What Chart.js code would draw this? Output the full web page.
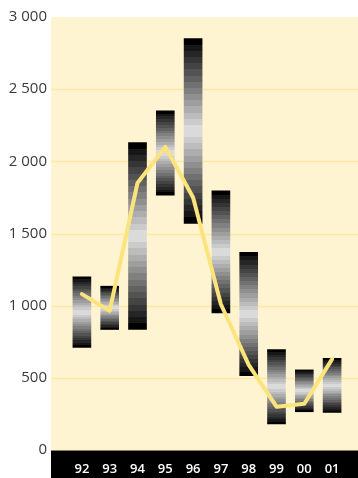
<!doctype html>
<html lang="en">
<head>
<meta charset="utf-8">
<title>Range chart</title>
<script src="https://cdn.jsdelivr.net/npm/chart.js@4/dist/chart.umd.min.js"></script>
<style>
  html, body { margin: 0; padding: 0; background: #fff; }
  #wrap { width: 358px; height: 478px; }
</style>
</head>
<body>
<div id="wrap"><canvas id="rangeChart" width="358" height="478"></canvas></div>
<script>
// years, min / max range per year and the average line
var years = ['92', '93', '94', '95', '96', '97', '98', '99', '00', '01'];
var lows  = [710, 835, 835, 1765, 1570, 950, 515, 180, 265, 260];
var highs = [1200, 1135, 2130, 2350, 2850, 1795, 1370, 695, 555, 635];
var avg   = [1080, 965, 1850, 2100, 1750, 1010, 590, 300, 320, 630];
var yTicks = [0, 500, 1000, 1500, 2000, 2500, 3000];

var ranges = years.map(function (y, i) { return [lows[i], highs[i]]; });

// plot panel spans wider than the chart area
var PANEL_LEFT = 51;

function fmt(v) {
  return String(v).replace(/\B(?=(\d{3})+(?!\d))/g, ' ');
}

// banded black - light grey - black fill, per bar
function barFill(ctx) {
  var chart = ctx.chart;
  if (!chart.chartArea || !ctx.raw) return '#888';
  var ys = chart.scales.y;
  var top = ys.getPixelForValue(ctx.raw[1]);
  var bot = ys.getPixelForValue(ctx.raw[0]);
  var g = chart.ctx.createLinearGradient(0, top, 0, bot);
  var n = 30;
  for (var k = 0; k < n; k++) {
    var mid = (k + 0.5) / n;
    var d = Math.abs(mid - 0.5) * 2;
    var c = Math.round(226 * (1 - d));
    if (k === 0 || k === n - 1) c = 0;
    var col = 'rgb(' + c + ',' + c + ',' + c + ')';
    g.addColorStop(k / n, col);
    g.addColorStop((k + 1) / n, col);
  }
  return g;
}

var panel = {
  id: 'panel',
  beforeDraw: function (chart) {
    var c = chart.ctx, a = chart.chartArea, ys = chart.scales.y;
    var right = chart.width;
    c.save();
    c.fillStyle = '#fff4d1';
    c.fillRect(PANEL_LEFT, a.top, right - PANEL_LEFT, a.bottom - a.top);
    c.strokeStyle = '#ffe8a3';
    c.lineWidth = 1.5;
    yTicks.forEach(function (v) {
      if (v === 0 || v === 3000) return;
      var y = Math.round(ys.getPixelForValue(v)) + 0.5;
      c.beginPath();
      c.moveTo(PANEL_LEFT, y);
      c.lineTo(right, y);
      c.stroke();
    });
    c.fillStyle = '#000';
    c.fillRect(PANEL_LEFT, a.bottom, right - PANEL_LEFT, chart.height - a.bottom);
    c.fillStyle = '#8a7f5a';
    c.fillRect(PANEL_LEFT, a.bottom, right - PANEL_LEFT, 1);
    c.restore();
  }
};

new Chart(document.getElementById('rangeChart'), {
  data: {
    labels: years,
    datasets: [
      {
        type: 'line',
        data: avg,
        order: 0,
        borderColor: '#fbe47c',
        borderWidth: 4,
        tension: 0,
        pointRadius: 0,
        borderJoinStyle: 'round',
        borderCapStyle: 'round'
      },
      {
        type: 'bar',
        data: ranges,
        order: 1,
        barThickness: 18,
        backgroundColor: barFill,
        borderWidth: 0
      }
    ]
  },
  options: {
    responsive: false,
    animation: false,
    layout: { padding: { top: 17, right: 12, bottom: 0, left: 0 } },
    plugins: { legend: { display: false }, tooltip: { enabled: false } },
    scales: {
      x: {
        grid: { display: false, drawTicks: false, tickLength: 0 },
        border: { display: false },
        ticks: {
          color: '#fff',
          padding: 11,
          font: { family: 'Open Sans', size: 13, weight: '600' }
        },
        afterFit: function (s) { s.height = 28; }
      },
      y: {
        min: 0,
        max: 3000,
        grid: { display: false, drawTicks: false, tickLength: 0 },
        border: { display: false },
        afterBuildTicks: function (s) {
          s.ticks = yTicks.map(function (v) { return { value: v }; });
        },
        ticks: {
          color: '#3a3a3a',
          padding: 21,
          font: { family: 'Open Sans', size: 15 },
          callback: function (v) { return fmt(v); }
        },
        // fixed axis box so the plot starts at the same place every time
        afterFit: function (s) { s.width = 68; s.paddingTop = 0; s.paddingBottom = 0; }
      }
    }
  },
  plugins: [panel]
});
</script>
</body>
</html>
